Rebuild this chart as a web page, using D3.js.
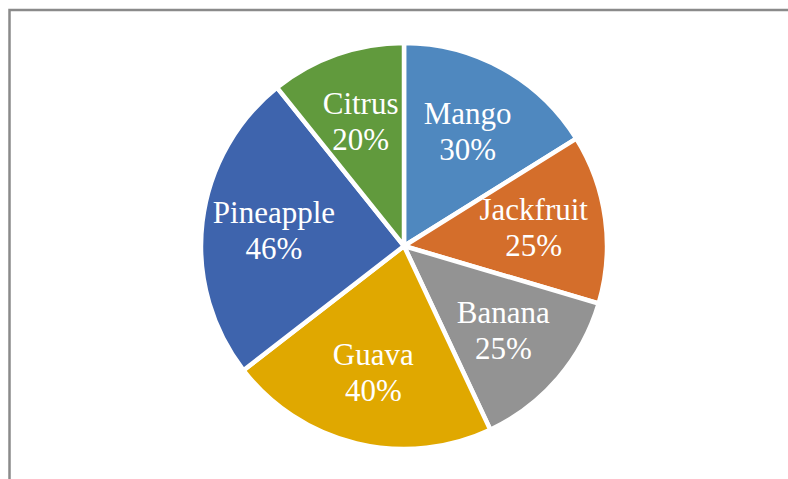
<!DOCTYPE html>
<html>
<head>
<meta charset="utf-8">
<script src="https://cdn.jsdelivr.net/npm/d3@7"></script>
<style>
  html, body { margin: 0; padding: 0; background: #fff; }
  svg { display: block; }
</style>
</head>
<body>
<svg id="chart" width="788" height="479"></svg>
<script>
const categories = ["Mango", "Jackfruit", "Banana", "Guava", "Pineapple", "Citrus"];
const values = [30, 25, 25, 40, 46, 20];
const labels = ["30%", "25%", "25%", "40%", "46%", "20%"];
const colors = ["#4F88BF", "#D46E2B", "#939393", "#E0A800", "#3E64AD", "#619A3D"];

const svg = d3.select("#chart");

// frame (partially cropped chart border)
svg.append("path")
  .attr("d", "M9.5,479 L9.5,10 L788,10")
  .attr("fill", "none")
  .attr("stroke", "#8a8a8a")
  .attr("stroke-width", 2.5);

const cx = 404, cy = 246, R = 203;
const g = svg.append("g").attr("transform", `translate(${cx},${cy})`);

const pie = d3.pie().sort(null).value(d => d.v);
const data = pie(categories.map((c, i) => ({ c, v: values[i], l: labels[i], col: colors[i] })));

const arc = d3.arc().innerRadius(0).outerRadius(R);
g.selectAll("path.slice")
  .data(data)
  .enter().append("path")
  .attr("class", "slice")
  .attr("d", arc)
  .attr("fill", d => d.data.col)
  .attr("stroke", "#fff")
  .attr("stroke-width", 4.5)
  .attr("stroke-linejoin", "miter");

const labelArc = d3.arc().innerRadius(R * 0.645).outerRadius(R * 0.645);
const lg = g.selectAll("g.lbl")
  .data(data)
  .enter().append("g")
  .attr("class", "lbl")
  .attr("transform", d => { const [x, y] = labelArc.centroid(d); return `translate(${x},${y})`; });

const font = "'Liberation Serif', 'Times New Roman', serif";
lg.append("text")
  .attr("text-anchor", "middle")
  .attr("y", -8)
  .attr("fill", "#fff")
  .style("font-family", font)
  .style("font-size", "31px")
  .text(d => d.data.c);

lg.append("text")
  .attr("text-anchor", "middle")
  .attr("y", 28)
  .attr("fill", "#fff")
  .style("font-family", font)
  .style("font-size", "31px")
  .text(d => d.data.l);
</script>
</body>
</html>
